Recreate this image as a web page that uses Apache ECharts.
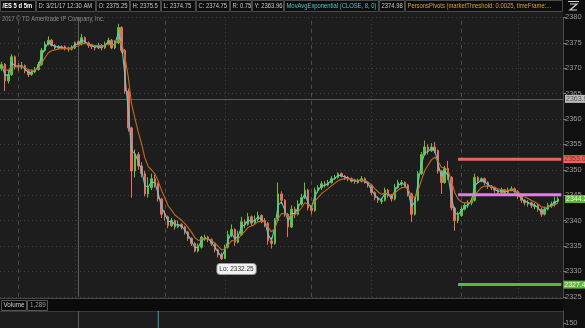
<!DOCTYPE html>
<html><head><meta charset="utf-8">
<script src="https://cdn.jsdelivr.net/npm/echarts@6/dist/echarts.min.js"></script>
<style>html,body{margin:0;padding:0;background:#1d1d1d;}#c{width:585px;height:328px;}</style>
</head><body><div id="c"></div>
<script>
// ---- DATA ----
// each candle: [open, close, low, high]
const candles = [
[2370.0,2370.75,2369.5,2371.25],[2370.75,2367.5,2365.5,2371.0],[2367.5,2368.75,2367.0,2369.5],[2368.75,2372.25,2368.5,2372.75],
[2372.25,2370.25,2369.75,2372.5],[2370.5,2370.25,2369.5,2371.0],[2370.25,2370.5,2369.75,2371.25],[2370.5,2369.5,2369.0,2370.75],
[2369.5,2368.75,2368.25,2369.75],[2368.75,2369.25,2368.5,2369.75],[2369.25,2369.75,2369.0,2370.25],[2369.75,2370.75,2369.5,2371.25],
[2370.75,2373.5,2370.5,2374.0],[2373.5,2374.75,2373.25,2375.25],[2374.75,2375.5,2374.5,2376.25],[2375.5,2374.5,2374.25,2375.75],
[2374.5,2374.0,2373.75,2374.75],[2374.0,2374.25,2373.75,2374.5],[2374.25,2374.0,2373.75,2374.5],[2374.25,2374.0,2373.5,2374.5],
[2374.0,2373.75,2373.25,2374.25],[2373.75,2374.0,2373.5,2374.5],[2374.0,2375.0,2373.75,2375.25],[2375.25,2374.75,2374.75,2375.5],
[2374.75,2376.0,2374.5,2376.75],[2376.0,2375.0,2374.75,2376.25],[2375.0,2374.5,2374.0,2375.25],[2374.5,2374.25,2373.75,2374.75],
[2374.25,2374.0,2373.5,2374.5],[2374.0,2374.5,2373.75,2375.0],[2374.5,2374.0,2373.5,2374.75],[2374.0,2374.75,2373.75,2375.25],
[2374.75,2375.5,2374.5,2376.0],[2375.5,2374.0,2373.75,2375.75],[2374.0,2375.0,2373.75,2375.5],[2375.0,2378.0,2374.75,2378.75],
[2378.0,2373.5,2373.0,2378.25],[2373.5,2365.5,2365.0,2373.75],[2365.5,2358.25,2357.5,2366.0],[2358.25,2349.75,2344.5,2358.5],
[2349.75,2353.0,2348.5,2354.0],[2353.0,2350.75,2350.0,2353.5],[2350.75,2349.25,2348.5,2351.5],[2349.25,2345.25,2344.75,2349.75],
[2345.25,2346.5,2344.5,2348.5],[2346.5,2348.25,2346.0,2349.25],[2348.25,2347.25,2346.5,2349.0],[2347.25,2344.25,2343.75,2347.5],
[2344.25,2341.25,2340.5,2344.5],[2341.25,2340.75,2340.0,2342.0],[2340.75,2339.0,2338.5,2341.0],[2339.0,2340.0,2338.75,2340.5],
[2340.0,2338.75,2338.25,2340.25],[2338.75,2339.25,2338.5,2340.0],[2339.25,2338.75,2338.25,2339.5],[2338.75,2337.75,2337.25,2339.0],
[2337.75,2336.5,2336.0,2338.0],[2336.5,2335.5,2335.0,2336.75],[2335.5,2334.0,2333.75,2335.75],[2334.0,2334.75,2333.75,2335.5],
[2334.75,2336.75,2334.5,2337.0],[2336.5,2336.75,2336.0,2337.25],[2336.75,2336.25,2335.75,2337.0],[2336.25,2335.5,2335.0,2336.5],
[2335.5,2334.25,2333.75,2335.75],[2334.25,2333.25,2332.75,2334.5],[2333.25,2332.5,2332.25,2333.75],[2332.5,2334.75,2332.5,2335.25],
[2334.75,2337.25,2334.5,2338.0],[2337.25,2338.25,2336.75,2339.25],[2338.25,2335.75,2335.0,2338.5],[2335.75,2337.25,2335.5,2338.0],
[2337.25,2339.75,2337.0,2340.75],[2339.75,2339.25,2338.5,2340.25],[2339.25,2340.75,2339.0,2341.5],[2340.75,2339.5,2339.0,2341.0],
[2339.5,2340.25,2339.25,2341.0],[2340.25,2341.0,2339.75,2341.75],[2341.0,2340.0,2339.5,2341.25],[2340.0,2339.5,2338.75,2340.5],
[2339.5,2336.0,2335.25,2339.75],[2336.0,2335.5,2334.5,2336.75],[2335.5,2340.0,2335.25,2340.5],[2340.0,2345.25,2339.75,2347.5],
[2345.25,2344.0,2343.25,2345.75],[2344.0,2341.25,2340.75,2344.25],[2341.25,2338.75,2336.75,2341.5],[2338.75,2342.25,2338.5,2343.0],
[2342.25,2341.25,2340.5,2342.75],[2341.25,2343.25,2341.0,2344.0],[2343.25,2344.5,2343.0,2345.25],[2344.5,2346.0,2344.25,2347.5],
[2346.0,2342.5,2342.0,2346.25],[2342.5,2342.0,2341.25,2343.0],[2342.0,2346.0,2341.75,2346.5],[2346.0,2346.5,2345.5,2347.0],
[2346.5,2347.25,2346.0,2347.75],[2347.25,2347.0,2346.5,2347.75],[2347.0,2347.5,2346.75,2348.0],[2347.5,2348.25,2347.25,2348.75],
[2348.25,2348.5,2348.0,2349.0],[2348.5,2349.25,2348.25,2349.5],[2349.25,2348.75,2348.5,2349.5],[2348.75,2348.5,2348.0,2349.0],
[2348.5,2348.25,2347.75,2348.75],[2348.25,2347.75,2347.5,2348.5],[2348.0,2347.75,2347.25,2348.25],[2347.5,2347.75,2347.25,2348.25],
[2347.75,2348.25,2347.5,2348.75],[2348.25,2347.5,2347.25,2348.5],[2347.5,2347.0,2346.5,2347.75],[2347.0,2345.5,2345.0,2347.25],
[2345.5,2344.5,2344.0,2345.75],[2344.5,2344.0,2343.5,2344.75],[2343.75,2344.0,2343.25,2344.5],[2344.0,2346.0,2343.75,2346.5],
[2346.0,2345.0,2344.5,2346.25],[2345.0,2344.25,2343.75,2345.25],[2344.25,2346.5,2344.0,2347.25],[2346.5,2347.5,2346.25,2348.0],
[2347.25,2347.5,2346.75,2348.0],[2347.5,2347.0,2346.5,2347.75],[2347.0,2345.25,2344.75,2347.25],[2345.25,2341.25,2339.75,2345.5],
[2341.25,2344.0,2341.0,2344.5],[2344.0,2349.25,2343.75,2349.75],[2349.25,2353.0,2349.0,2353.5],[2353.0,2354.5,2352.75,2355.75],
[2354.5,2353.75,2353.0,2355.0],[2353.75,2354.5,2353.5,2355.25],[2354.5,2353.75,2353.25,2355.5],[2353.75,2349.75,2349.25,2354.0],
[2349.75,2347.5,2345.25,2350.0],[2347.5,2350.25,2347.25,2350.75],[2350.25,2348.5,2348.0,2351.75],[2348.5,2342.5,2342.0,2348.75],
[2342.5,2340.0,2338.0,2342.75],[2340.0,2341.0,2339.5,2341.75],[2341.0,2342.25,2340.75,2342.75],[2342.25,2343.0,2342.0,2343.5],
[2343.0,2343.5,2342.5,2344.0],[2343.5,2344.0,2343.0,2344.5],[2344.0,2348.5,2343.75,2349.25],[2348.5,2347.75,2347.25,2348.75],
[2347.75,2348.25,2347.5,2348.5],[2348.25,2347.5,2347.0,2348.5],[2347.5,2346.75,2346.25,2347.75],[2346.75,2346.5,2346.0,2347.0],
[2346.5,2346.0,2345.5,2346.75],[2346.0,2345.5,2345.0,2346.25],[2345.5,2346.0,2345.25,2346.5],[2346.0,2345.5,2345.0,2346.25],
[2345.5,2346.0,2345.25,2346.5],[2346.0,2346.25,2345.75,2346.75],[2346.25,2345.75,2345.25,2346.5],[2345.75,2344.75,2344.25,2346.0],
[2344.75,2344.0,2343.5,2345.0],[2344.0,2343.5,2343.0,2344.25],[2343.25,2343.5,2342.75,2344.0],[2343.5,2343.0,2342.5,2343.75],
[2342.75,2343.0,2342.25,2343.5],[2343.0,2342.25,2341.75,2343.25],[2342.25,2341.25,2340.75,2342.5],[2341.25,2342.25,2341.0,2342.75],
[2342.25,2343.0,2342.0,2343.5],[2343.0,2343.25,2342.5,2343.75],[2343.25,2343.75,2342.75,2344.75],[2343.75,2344.25,2343.5,2344.75]
];
const pivotStart = 137;          // first bar of the current session
const pivotR = 2352.1;           // red pivot level
const pivotP = 2345.1;           // magenta pivot level
const pivotS = 2327.4;           // green pivot level
const lowIdx = 66, lowValue = 2332.25;
const crossIdx = 23, crossValue = 2363.96;
const sessionBreakIdx = [5, 49, 93, 138];
const midnightIdx = [22, 67, 111, 155];
const volumeIdx = [47];          // the only volume bar tall enough to show in the pane
const volumeVal = [1400];
const yTicks = {min: 2325, max: 2380, interval: 5};
const volRange = {min: 120, max: 225};
const volTickLabels = [150];
const emaFastLen = 2, emaSlowLen = 6;

// ---- build ----
const nCat = candles.length + 1;
const categories = [];
{ let t = new Date(2017, 2, 20, 15, 0); for (let i = 0; i < nCat; i++) { categories.push((t.getMonth()+1)+'/'+t.getDate()+' '+t.toTimeString().slice(0,5)); t = new Date(t.getTime() + 30*60000); } }
const closes = candles.map(c => c[1]);
function emaOf(vals, n) { const k = 2/(n+1); let p = null; return vals.map(v => { p = (p === null) ? v : v*k + p*(1-k); return +p.toFixed(2); }); }
const emaFast = emaOf(closes, emaFastLen), emaSlow = emaOf(closes, emaSlowLen);
function levelLine(v) { return categories.map((c, i) => i >= pivotStart ? v : null); }
const volumeData = categories.map(() => null); volumeIdx.forEach((ix, k) => volumeData[ix] = volumeVal[k]);
const lastClose = closes[closes.length - 1];
const trunc1 = v => (Math.floor(v * 10) / 10).toFixed(1);

const FAM = "'Liberation Sans', Arial, sans-serif";
const tag = (bg, fg, text) => ({show: true, position: 'end', distance: 2, backgroundColor: bg, color: fg, fontSize: 7, fontFamily: FAM, padding: [1, 1, 0, 1], formatter: text});

const vlines = [];
sessionBreakIdx.forEach(i => vlines.push({xAxis: categories[i], lineStyle: {color: '#4d4d4d', type: [4, 4], width: 1}}));
midnightIdx.forEach(i => vlines.push({xAxis: categories[i], lineStyle: {color: '#3d3d3d', type: [1, 3], width: 1}}));
vlines.push({xAxis: categories[crossIdx], lineStyle: {color: '#5c5c5c', type: 'solid', width: 1}});
vlines.push({yAxis: crossValue, lineStyle: {color: '#5c5c5c', type: 'solid', width: 1}, label: tag('#bcbcbc', '#555', trunc1(crossValue))});
vlines.push({yAxis: lastClose, lineStyle: {color: 'rgba(0,0,0,0)', width: 0}, label: tag('#5fb832', '#e8ffe0', trunc1(lastClose))});

// header
const headerItems = [
 ['/ES 5 d 5m', 0, 36, '#ffffff', 'bold'],
 ['D: 3/21/17 12:30 AM', 36, 60, '#c8c8c8'],
 ['O: 2375.25', 96, 34, '#c8c8c8'],
 ['H: 2375.5', 130, 31, '#c8c8c8'],
 ['L: 2374.75', 161, 35, '#c8c8c8'],
 ['C: 2374.75', 196, 34, '#c8c8c8'],
 ['R: 0.75', 230, 22, '#c8c8c8'],
 ['Y: 2363.96', 252, 32, '#c8c8c8'],
 ['MovAvgExponential (CLOSE, 8, 0)', 284, 95, '#4fc6c8'],
 ['2374.98', 379, 26, '#c8c8c8'],
 ['PersonsPivots (marketThreshold: 0.0025, timeFrame:...', 405, 158, '#d9a02a']
];
const graphics = [
 {type: 'rect', z: -10, shape: {x: 0, y: 0, width: 585, height: 12}, style: {fill: '#0d0d0d'}},
 {type: 'rect', z: -10, shape: {x: 563, y: 12, width: 22, height: 316}, style: {fill: '#101010'}},
 {type: 'rect', z: -10, shape: {x: 0, y: 298, width: 563, height: 13}, style: {fill: '#0b0b0b'}},
 {type: 'line', z: -5, shape: {x1: 0, y1: 298.5, x2: 563, y2: 298.5}, style: {stroke: '#4a4a4a', lineWidth: 1}},
 {type: 'line', z: -5, shape: {x1: 0, y1: 311.5, x2: 563, y2: 311.5}, style: {stroke: '#3a3a3a', lineWidth: 1}},
 {type: 'text', z: 5, x: 2, y: 16, scaleX: 0.88, style: {text: '2017 © TD Ameritrade IP Company, Inc.', fill: '#8a8a8a', font: "6.5px " + FAM}},
 {type: 'rect', z: 5, shape: {x: 1.5, y: 300.5, width: 25, height: 10}, style: {fill: '#0b0b0b', stroke: '#555', lineWidth: 1}},
 {type: 'text', z: 6, x: 3.5, y: 302, scaleX: 0.9, style: {text: 'Volume', fill: '#d0d0d0', font: "7px " + FAM}},
 {type: 'rect', z: 5, shape: {x: 27.5, y: 300.5, width: 20, height: 10}, style: {fill: '#0b0b0b', stroke: '#555', lineWidth: 1}},
 {type: 'text', z: 6, x: 30, y: 302, scaleX: 0.9, style: {text: '1,289', fill: '#9a9a9a', font: "7px " + FAM}},
 {type: 'polyline', z: 6, shape: {points: [[570, 4], [577, 4], [570, 10], [577, 10]]}, style: {stroke: '#d0d0d0', lineWidth: 1.2, fill: null}},
 {type: 'line', z: 6, shape: {x1: 568, y1: 1.5, x2: 579, y2: 1.5}, style: {stroke: '#d0d0d0', lineWidth: 1}}
];
headerItems.forEach(h => {
  graphics.push({type: 'rect', z: 5, shape: {x: h[1] + 0.5, y: 0.5, width: h[2] - 1, height: 11}, style: {fill: '#0d0d0d', stroke: '#4a4a4a', lineWidth: 1}});
  graphics.push({type: 'text', z: 6, x: h[1] + 2.5, y: 2.3, scaleX: 0.78, style: {text: h[0], fill: h[3], font: (h[4] || 'normal') + " 7.5px " + FAM}});
});

const chart = echarts.init(document.getElementById('c'), null, {renderer: 'canvas'});
chart.setOption({
  animation: false,
  backgroundColor: '#1d1d1d',
  graphic: graphics,
  grid: [
    {left: 0, right: 22, top: 17.4, bottom: 31.2},
    {left: 0, right: 22, top: 311, bottom: 0}
  ],
  xAxis: [
    {type: 'category', data: categories, gridIndex: 0, boundaryGap: true, axisLine: {show: false}, axisTick: {show: false}, axisLabel: {show: false}, splitLine: {show: false}},
    {type: 'category', data: categories, gridIndex: 1, boundaryGap: true, axisLine: {show: false}, axisTick: {show: false}, axisLabel: {show: false}, splitLine: {show: false}}
  ],
  yAxis: [
    {type: 'value', gridIndex: 0, position: 'right', min: yTicks.min, max: yTicks.max, interval: yTicks.interval,
     axisLine: {show: true, lineStyle: {color: '#4a4a4a'}}, axisTick: {show: true, length: 3, lineStyle: {color: '#777'}},
     axisLabel: {color: '#9a9a9a', fontSize: 7.5, fontFamily: FAM, margin: 2, formatter: v => String(v)},
     splitLine: {show: true, lineStyle: {color: '#3e3e3e', type: [1, 3]}}},
    {type: 'value', gridIndex: 1, position: 'right', min: volRange.min, max: volRange.max,
     axisLine: {show: true, lineStyle: {color: '#4a4a4a'}},
     axisTick: {show: true, length: 3, customValues: volTickLabels, lineStyle: {color: '#777'}},
     axisLabel: {color: '#9a9a9a', fontSize: 7.5, fontFamily: FAM, margin: 2, customValues: volTickLabels, formatter: v => String(v)},
     splitLine: {show: false}}
  ],
  series: [
    {type: 'candlestick', name: '/ES', data: candles, xAxisIndex: 0, yAxisIndex: 0, barWidth: 2, z: 3,
     itemStyle: {color: '#62c23a', color0: '#ea6f5e', borderColor: '#62c23a', borderColor0: '#ea6f5e', borderWidth: 1},
     markLine: {silent: true, symbol: 'none', label: {show: false}, data: vlines, z: 1},
     markPoint: {silent: true, symbol: 'circle', symbolSize: 0,
       data: [{coord: [categories[lowIdx], lowValue], value: lowValue,
         label: {show: true, position: 'inside', offset: [15, 9], formatter: 'Lo: ' + lowValue.toFixed(2), backgroundColor: '#f2f2f2', borderColor: '#999', borderWidth: 1, borderRadius: 3, color: '#333', fontSize: 6.5, fontFamily: FAM, padding: [2, 2, 1, 2]}}]}},
    {type: 'line', name: 'EMA fast', data: emaFast, showSymbol: false, lineStyle: {color: '#5ccbcc', width: 1.1}, z: 4},
    {type: 'line', name: 'EMA slow', data: emaSlow, showSymbol: false, lineStyle: {color: '#c46c1e', width: 1.1}, z: 4},
    {type: 'line', name: 'R', data: levelLine(pivotR), showSymbol: false, lineStyle: {color: '#e8665c', width: 3}, z: 5,
     endLabel: {show: true, distance: 2, backgroundColor: '#e8665c', color: '#8a2822', fontSize: 7, fontFamily: FAM, padding: [1, 1, 0, 1], formatter: '2353.0'}},
    {type: 'line', name: 'P', data: levelLine(pivotP), showSymbol: false, lineStyle: {color: '#df7ee6', width: 3}, z: 5},
    {type: 'line', name: 'S', data: levelLine(pivotS), showSymbol: false, lineStyle: {color: '#5fb832', width: 3}, z: 5,
     endLabel: {show: true, distance: 2, backgroundColor: '#5fb832', color: '#e8ffe0', fontSize: 7, fontFamily: FAM, padding: [1, 1, 0, 1], formatter: p => p.value.toFixed(1)}},
    {type: 'bar', name: 'Volume', data: volumeData, xAxisIndex: 1, yAxisIndex: 1, barWidth: 1, itemStyle: {color: '#3fa3b0'},
     markLine: {silent: true, symbol: 'none', label: {show: false}, data: [{xAxis: categories[crossIdx], lineStyle: {color: '#5c5c5c', type: 'solid', width: 1}}]}}
  ]
});
</script></body></html>
